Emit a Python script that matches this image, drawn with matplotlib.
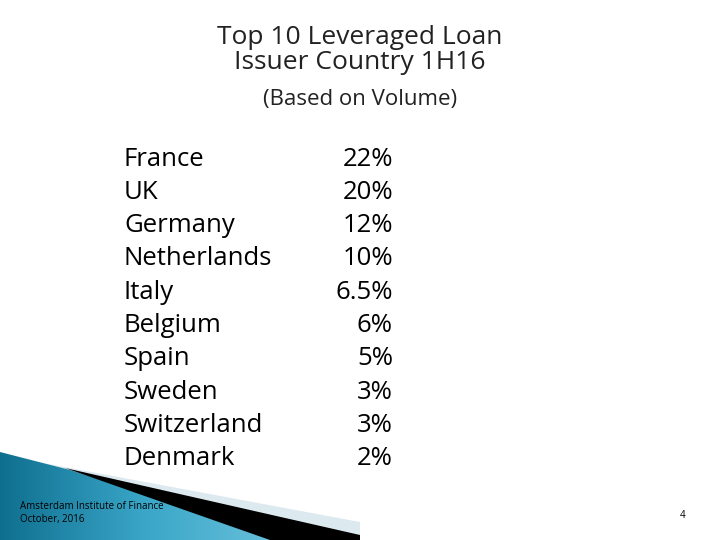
import matplotlib
matplotlib.use("Agg")
import matplotlib.pyplot as plt
from matplotlib.patches import Polygon
import numpy as np

countries = ["France", "UK", "Germany", "Netherlands", "Italy", "Belgium",
             "Spain", "Sweden", "Switzerland", "Denmark"]
shares = ["22%", "20%", "12%", "10%", "6.5%", "6%", "5%", "3%", "3%", "2%"]

fig = plt.figure(figsize=(7.2, 5.4), dpi=100)
ax = fig.add_axes([0, 0, 1, 1])
ax.set_xlim(0, 720); ax.set_ylim(540, 0); ax.axis("off")

fam = ["Open Sans", "DejaVu Sans"]
ax.text(360, 50, "Top 10 Leveraged Loan\nIssuer Country 1H16", ha="center", va="center",
        fontsize=19, color="#222222", family=fam, linespacing=1.0)
ax.text(360, 99, "(Based on Volume)", ha="center", va="center", fontsize=16,
        color="#222222", family=fam)

for i, (c, s) in enumerate(zip(countries, shares)):
    y = 159 + i * 33.3
    ax.text(124, y, c, ha="left", va="center", fontsize=18.5, family=fam)
    ax.text(393, y, s, ha="right", va="center", fontsize=18.5, family=fam)

# decorative swoosh
ax.add_patch(Polygon([(0, 455), (360, 522), (360, 540), (0, 540)], closed=True,
                     facecolor="#dce9ef", edgecolor="none", zorder=0))
grad = np.linspace(0, 1, 256).reshape(1, -1)
im = ax.imshow(grad, extent=[0, 290, 540, 452], cmap=matplotlib.colors.LinearSegmentedColormap.from_list(
    "b", ["#0f6f8f", "#3aa6c8", "#6cc3dd"]), aspect="auto", zorder=1)
clip = Polygon([(0, 452), (70, 470), (285, 540), (0, 540)], closed=True,
               facecolor="none", edgecolor="none", transform=ax.transData)
ax.add_patch(clip); im.set_clip_path(clip)
ax.add_patch(Polygon([(65, 468), (360, 535), (360, 540), (270, 540)], closed=True,
                     facecolor="black", edgecolor="none", zorder=2))
ax.set_xlim(0, 720); ax.set_ylim(540, 0)

ax.text(20, 513, "Amsterdam Institute of Finance\nOctober, 2016", ha="left", va="center",
        fontsize=7, family=fam, zorder=3, linespacing=1.2)
ax.text(683, 516, "4", ha="center", va="center", fontsize=7, family=fam)

fig.savefig("out.png", dpi=100)
